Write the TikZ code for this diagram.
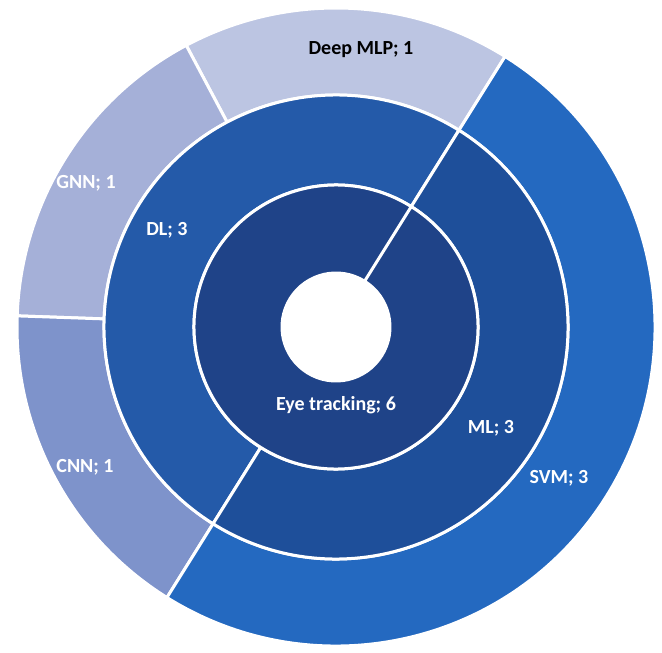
\documentclass[tikz,border=0pt]{standalone}
\usepackage{fontspec}
\setmainfont{Carlito}
\begin{document}
\begin{tikzpicture}[x=1pt,y=1pt,
  seg/.style={draw=white,line width=3pt,line join=miter},
  lbl/.style={font=\bfseries\fontsize{20}{24}\selectfont,text=white,inner sep=0pt},
  lbldark/.style={lbl,text=black}]
\definecolor{ceye}{HTML}{1F4388}
\definecolor{cdl}{HTML}{245AA9}
\definecolor{cml}{HTML}{1E4F9A}
\definecolor{csvm}{HTML}{2469C0}
\definecolor{cmlp}{HTML}{BCC5E2}
\definecolor{cgnn}{HTML}{A5B0D8}
\definecolor{ccnn}{HTML}{7E93CB}
\fill[white] (0,-653) rectangle (662,0);
\useasboundingbox (0,-653) rectangle (662,0);
% annular sector: colour, start angle, end angle, inner radius, outer radius
\newcommand\ringpart[5]{%
  \path[seg,fill=#1] (#2:#5) arc[start angle=#2,end angle=#3,radius=#5]
    -- (#3:#4) arc[start angle=#3,end angle=#2,radius=#4] -- cycle;}
\begin{scope}[shift={(336,-327)}]
  % outer ring
  \ringpart{cmlp}{58}{118}{232}{319}
  \ringpart{cgnn}{118}{178}{232}{319}
  \ringpart{ccnn}{178}{238}{232}{319}
  \ringpart{csvm}{238}{418}{232}{319}
  % middle ring
  \ringpart{cdl}{58}{238}{142}{232}
  \ringpart{cml}{238}{418}{142}{232}
  % inner ring
  \ringpart{ceye}{58}{418}{54}{142}
\end{scope}
\node[lbldark] (mlp) at (361,-50) {Deep MLP; 1};
\node[lbl] (gnn) at (86,-183) {GNN; 1};
\node[lbl] (dl) at (167,-230) {DL; 3};
\node[lbl] (cnn) at (85,-467) {CNN; 1};
\node[lbl] (eye) at (336,-405) {Eye tracking; 6};
\node[lbl] (ml) at (491,-428) {ML; 3};
\node[lbl] (svm) at (559,-478) {SVM; 3};
\end{tikzpicture}
\end{document}
